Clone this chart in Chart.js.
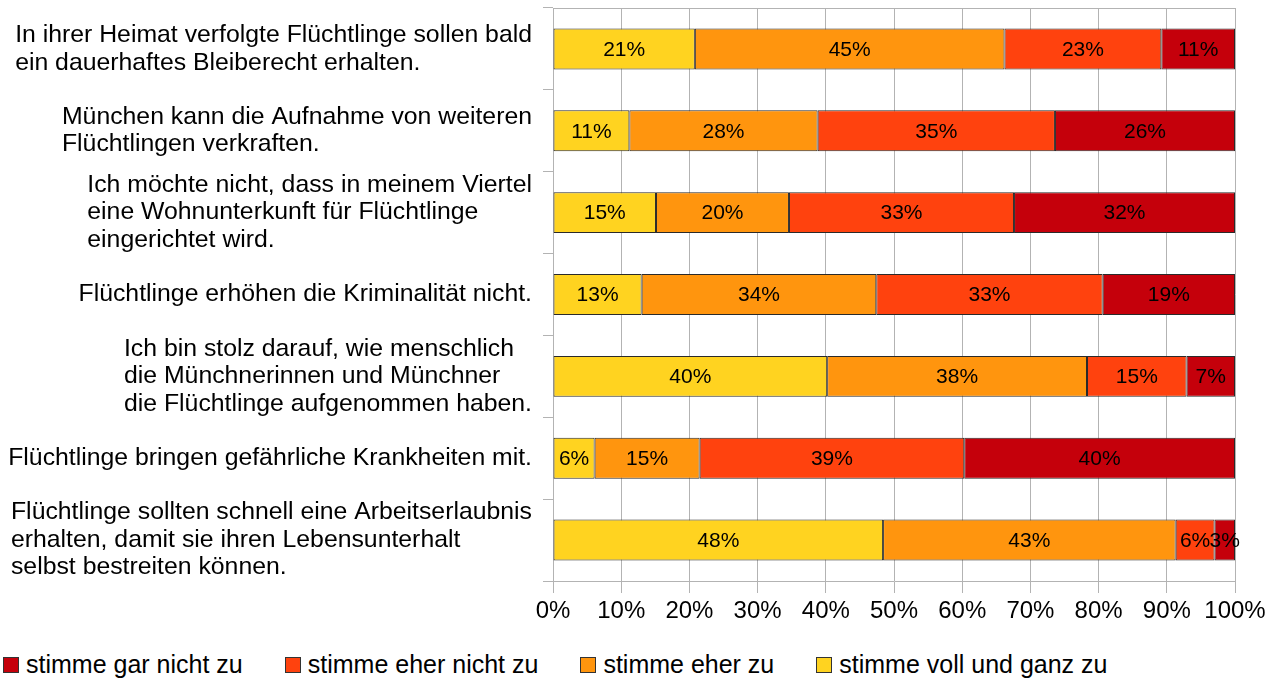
<!DOCTYPE html>
<html>
<head>
<meta charset="utf-8">
<script src="https://cdn.jsdelivr.net/npm/chart.js@4.4.1/dist/chart.umd.min.js"></script>
<style>
  body { margin: 0; background: #fff; font-family: "Liberation Sans", Arial, sans-serif; }
  #wrap { position: relative; width: 1278px; height: 640px; }
  #legend { position: absolute; left: 3px; top: 650px; display: flex; font-size: 25px; color: #000; }
  #legend .item { display: flex; align-items: center; margin-right: 42px; }
  #legend .box { width: 14px; height: 14px; border: 1px solid #333; margin-right: 7px; }
</style>
</head>
<body>
<div id="wrap"><canvas id="chart"></canvas></div>
<div id="legend"></div>
<script>
// =========================================
// Umfrage Flüchtlinge - gestapelte Balken
// =========================================

const categories = [
    ["In ihrer Heimat verfolgte Flüchtlinge sollen bald", "ein dauerhaftes Bleiberecht erhalten."],
    ["München kann die Aufnahme von weiteren", "Flüchtlingen verkraften."],
    ["Ich möchte nicht, dass in meinem Viertel", "eine Wohnunterkunft für Flüchtlinge", "eingerichtet wird."],
    ["Flüchtlinge erhöhen die Kriminalität nicht."],
    ["Ich bin stolz darauf, wie menschlich", "die Münchnerinnen und Münchner", "die Flüchtlinge aufgenommen haben."],
    ["Flüchtlinge bringen gefährliche Krankheiten mit."],
    ["Flüchtlinge sollten schnell eine Arbeitserlaubnis", "erhalten, damit sie ihren Lebensunterhalt", "selbst bestreiten können."]
];

// values in percent
const volleZustimmung = [20.8, 11.2, 15.1, 13.0, 40.2, 6.1, 48.4];
const eherZu          = [45.4, 27.6, 19.5, 34.4, 38.1, 15.4, 42.9];
const eherNichtZu     = [23.0, 34.8, 33.0, 33.2, 14.6, 38.8, 5.7];
const garNichtZu      = [10.8, 26.4, 32.4, 19.4, 7.1, 39.7, 3.0];

const xTicks = [0, 10, 20, 30, 40, 50, 60, 70, 80, 90, 100];

const seriesNames = ["stimme voll und ganz zu", "stimme eher zu", "stimme eher nicht zu", "stimme gar nicht zu"];
const seriesColors = ["#ffd320", "#ff950e", "#ff420e", "#c5000b"];

Chart.defaults.font.family = '"Liberation Sans", Arial, sans-serif';
Chart.defaults.color = '#000';

// category texts: block is left aligned, right edge next to the axis
const categoryLabels = {
    id: 'categoryLabels',
    afterDraw(chart) {
        const ctx = chart.ctx;
        const yScale = chart.scales.y;
        const rightEdge = 532;
        const lineH = 27.5;
        ctx.save();
        ctx.font = '24.8px "Liberation Sans", Arial, sans-serif';
        ctx.fillStyle = '#000';
        ctx.textAlign = 'left';
        ctx.textBaseline = 'middle';
        categories.forEach((lines, i) => {
            const y = yScale.getPixelForValue(i);
            const maxW = Math.max(...lines.map(l => ctx.measureText(l).width));
            const x = rightEdge - maxW;
            const top = y - (lines.length - 1) * lineH / 2;
            lines.forEach((l, k) => ctx.fillText(l, x, top + k * lineH));
        });
        ctx.restore();
    }
};

// percent labels in the middle of each segment
const barLabels = {
    id: 'barLabels',
    afterDatasetsDraw(chart) {
        const ctx = chart.ctx;
        ctx.save();
        ctx.font = '21px "Liberation Sans", Arial, sans-serif';
        ctx.fillStyle = '#000';
        ctx.textAlign = 'center';
        ctx.textBaseline = 'middle';
        chart.data.datasets.forEach((ds, di) => {
            chart.getDatasetMeta(di).data.forEach((bar, i) => {
                const p = bar.getCenterPoint();
                ctx.fillText(Math.round(ds.data[i]) + '%', p.x, p.y + 1);
            });
        });
        ctx.restore();
    }
};

// top border line of the plot area
const topLine = {
    id: 'topLine',
    beforeDatasetsDraw(chart) {
        const a = chart.chartArea;
        const ctx = chart.ctx;
        ctx.save();
        ctx.strokeStyle = '#b3b3b3';
        ctx.lineWidth = 1;
        ctx.beginPath();
        ctx.moveTo(a.left, Math.round(a.top) + 0.5);
        ctx.lineTo(a.right, Math.round(a.top) + 0.5);
        ctx.stroke();
        ctx.restore();
    }
};

const allSeries = [volleZustimmung, eherZu, eherNichtZu, garNichtZu];

const chart = new Chart(document.getElementById('chart'), {
    type: 'bar',
    data: {
        labels: categories,
        datasets: allSeries.map((d, i) => ({
            label: seriesNames[i],
            data: d,
            backgroundColor: seriesColors[i],
            borderColor: '#2a2a2a',
            borderWidth: 1,
            borderSkipped: false,
            barPercentage: 0.5,
            categoryPercentage: 1
        }))
    },
    options: {
        indexAxis: 'y',
        responsive: true,
        maintainAspectRatio: false,
        animation: false,
        layout: { padding: { top: 8, right: 43, left: 0, bottom: 0 } },
        plugins: {
            legend: { display: false },
            tooltip: { enabled: false }
        },
        scales: {
            x: {
                stacked: true,
                min: 0,
                max: 100,
                afterBuildTicks: (s) => { s.ticks = xTicks.map(v => ({ value: v })); },
                ticks: {
                    callback: (v) => v + '%',
                    font: { size: 24 },
                    color: '#000',
                    padding: 4,
                    maxRotation: 0
                },
                grid: { color: '#b3b3b3', tickLength: 12 },
                border: { color: '#b3b3b3' },
                afterFit: (s) => { s.height = 59; }
            },
            y: {
                stacked: true,
                offset: true,
                ticks: { display: false },
                grid: { offset: true, drawOnChartArea: false, tickLength: 10, color: '#b3b3b3' },
                border: { color: '#b3b3b3' },
                afterFit: (s) => { s.width = 553; }
            }
        }
    },
    plugins: [topLine, barLabels, categoryLabels]
});

// legend below the chart, same order as the original
const legendEl = document.getElementById('legend');
[3, 2, 1, 0].forEach(i => {
    const item = document.createElement('span');
    item.className = 'item';
    item.innerHTML = '<span class="box" style="background:' + seriesColors[i] + '"></span>' + seriesNames[i];
    legendEl.appendChild(item);
});
</script>
</body>
</html>
